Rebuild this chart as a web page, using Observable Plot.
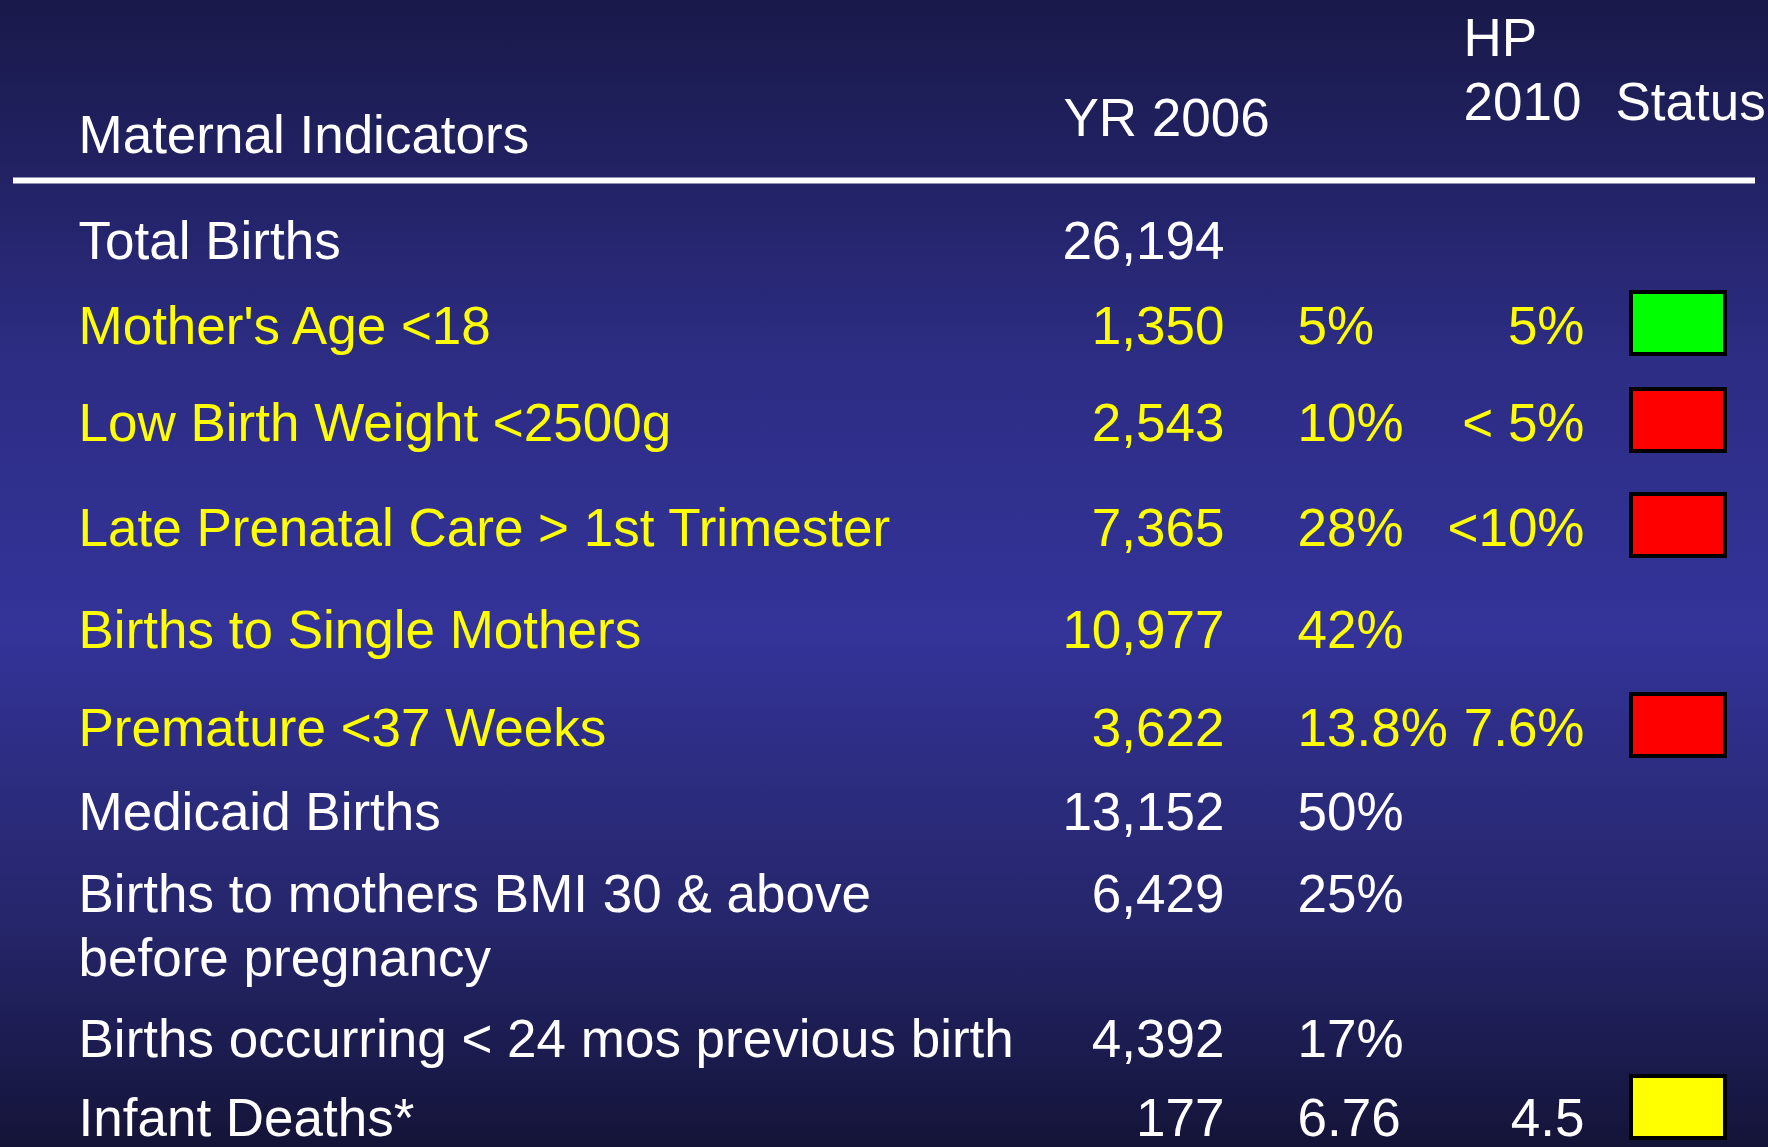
<!DOCTYPE html>
<html>
<head>
<meta charset="utf-8">
<script src="https://cdn.jsdelivr.net/npm/d3@7"></script>
<script src="https://cdn.jsdelivr.net/npm/@observablehq/plot@0.6"></script>
<style>
  html, body { margin: 0; padding: 0; background: #141438; }
  #chart svg { display: block; }
</style>
</head>
<body>
<div id="chart"></div>
<script>
// ---------------- data ----------------
const indicators = [
  "Total Births",
  "Mother's Age <18",
  "Low Birth Weight <2500g",
  "Late Prenatal Care > 1st Trimester",
  "Births to Single Mothers",
  "Premature <37 Weeks",
  "Medicaid Births",
  "Births to mothers BMI 30 & above\nbefore pregnancy",
  "Births occurring < 24 mos previous birth",
  "Infant Deaths*"
];
const births2006 = [26194, 1350, 2543, 7365, 10977, 3622, 13152, 6429, 4392, 177];
const pct2006 = ["", "5%", "10%", "28%", "42%", "13.8%", "50%", "25%", "17%", "6.76"];
const hp2010 = ["", "5%", "< 5%", "<10%", "", "7.6%", "", "", "", "4.5"];
const status = [null, "Met", "Not met", "Not met", null, "Not met", null, null, null, "Near"];
const hpFocus = [false, true, true, true, true, true, false, false, false, false];
const headers = ["Maternal Indicators", "YR 2006", "HP\n2010", "Status"];
const statusCategories = ["Met", "Not met", "Near"];

// ---------------- layout & style ----------------
const W = 1768, H = 1147;
const FONT = 53, LINE = 64;
const YELLOW = "#ffff00", WHITE = "#ffffff";
const statusColors = ["#00ff00", "#ff0000", "#ffff00"];
const rowBaseline = [258, 343, 440, 545, 647, 745, 829, 911, 1056, 1135];
const col = {label: 78, countEnd: 1224, pctStart: 1297, hpEnd: 1584, boxStart: 1631, boxEnd: 1725};
const headerX = [78, 1063, 1463, 1615];
const headerBase = [152, 135, 119, 119];
const rule = {y: 180, x1: 13, x2: 1755};
const BOX_H = 62;

const rows = indicators.map((name, i) => ({
  name,
  count: births2006[i],
  pct: pct2006[i],
  hp: hp2010[i],
  status: status[i],
  focus: hpFocus[i],
  base: rowBaseline[i],
  lines: name.split("\n").length
}));
const heads = headers.map((h, i) => ({h, x: headerX[i], base: headerBase[i]}));
const fmt = d3.format(",");
const boxMid = d => Math.min(d.base - 20, H - 40);

const textOpts = {fontSize: FONT, lineAnchor: "bottom", lineHeight: LINE / FONT};

function rowTexts(filter, fill) {
  return [
    Plot.text(rows, {...textOpts, filter, fill, x: () => col.label,
      y: d => d.base + (d.lines - 1) * LINE, text: "name", textAnchor: "start"}),
    Plot.text(rows, {...textOpts, filter, fill, x: () => col.countEnd,
      y: "base", text: d => fmt(d.count), textAnchor: "end"}),
    Plot.text(rows, {...textOpts, filter: d => filter(d) && d.pct, fill, x: () => col.pctStart,
      y: "base", text: "pct", textAnchor: "start"}),
    Plot.text(rows, {...textOpts, filter: d => filter(d) && d.hp, fill, x: () => col.hpEnd,
      y: "base", text: "hp", textAnchor: "end"})
  ];
}

const chart = Plot.plot({
  width: W,
  height: H,
  margin: 0,
  style: {
    background: "linear-gradient(to bottom, #19194a 0%, #212162 14%, #2d2d85 32%, #333399 55%, #2c2c80 68%, #26266c 80%, #1b1b4e 92%, #141438 100%)",
    fontFamily: "'Liberation Sans', Arial, Helvetica, sans-serif",
    color: "white"
  },
  x: {type: "linear", domain: [0, W], range: [0, W], axis: null},
  y: {type: "linear", domain: [0, H], range: [0, H], axis: null},
  color: {domain: statusCategories, range: statusColors},
  marks: [
    Plot.text(heads, {...textOpts, x: "x", y: d => d.base, text: "h", textAnchor: "start", fill: WHITE}),
    Plot.ruleY([rule.y], {x1: rule.x1, x2: rule.x2, stroke: WHITE, strokeWidth: 6}),
    ...rowTexts(d => !d.focus, WHITE),
    ...rowTexts(d => d.focus, YELLOW),
    Plot.rect(rows.filter(d => d.status), {
      x1: () => col.boxStart, x2: () => col.boxEnd,
      y1: d => boxMid(d) - BOX_H / 2, y2: d => boxMid(d) + BOX_H / 2,
      fill: "status", stroke: "black", strokeWidth: 4
    })
  ]
});
document.getElementById("chart").appendChild(chart);
</script>
</body>
</html>
